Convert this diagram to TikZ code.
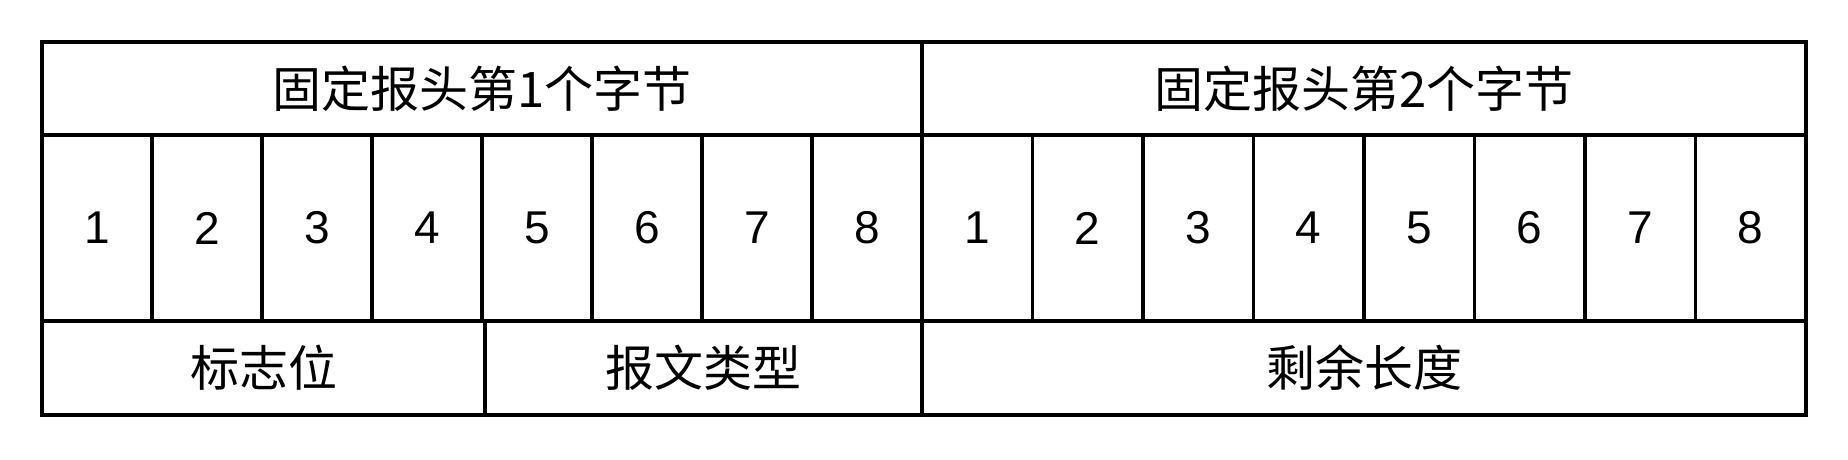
\documentclass[tikz,border=0pt]{standalone}
\usepackage{fontspec}
\setmainfont{Liberation Sans}
\newfontfamily\cjk{Noto Sans CJK SC}
\begin{document}
\begin{tikzpicture}[x=0.5pt,y=-0.5pt,
  cell/.style={draw=black, line width=1.7pt, inner sep=0pt, font=\fontsize{23}{28}\selectfont},
  hdr/.style={cell, minimum height=46.5pt, font=\cjk\fontsize{24.5}{28}\selectfont},
  bit/.style={cell, minimum height=93pt},
  fld/.style={cell, minimum height=47pt, font=\cjk\fontsize{24.5}{28}\selectfont}]
\useasboundingbox (0,0) rectangle (1848,460);
\node[hdr, minimum width=440pt] (h1) at (482,88.5) {固定报头第1个字节};
\node[hdr, minimum width=442pt] (h2) at (1364,88.5) {固定报头第2个字节};
\foreach \i in {1,...,8}{
  \node[bit, minimum width=55pt] (b\i) at ({42+55+110*(\i-1)},228) {\i};
  \node[bit, minimum width=55.25pt] (c\i) at ({922+55.25+110.5*(\i-1)},228) {\i};
}
\node[fld, minimum width=221.5pt] (f1) at (263.5,368) {标志位};
\node[fld, minimum width=218.5pt] (f2) at (703.5,368) {报文类型};
\node[fld, minimum width=442pt] (f3) at (1364,368) {剩余长度};
\end{tikzpicture}
\end{document}
